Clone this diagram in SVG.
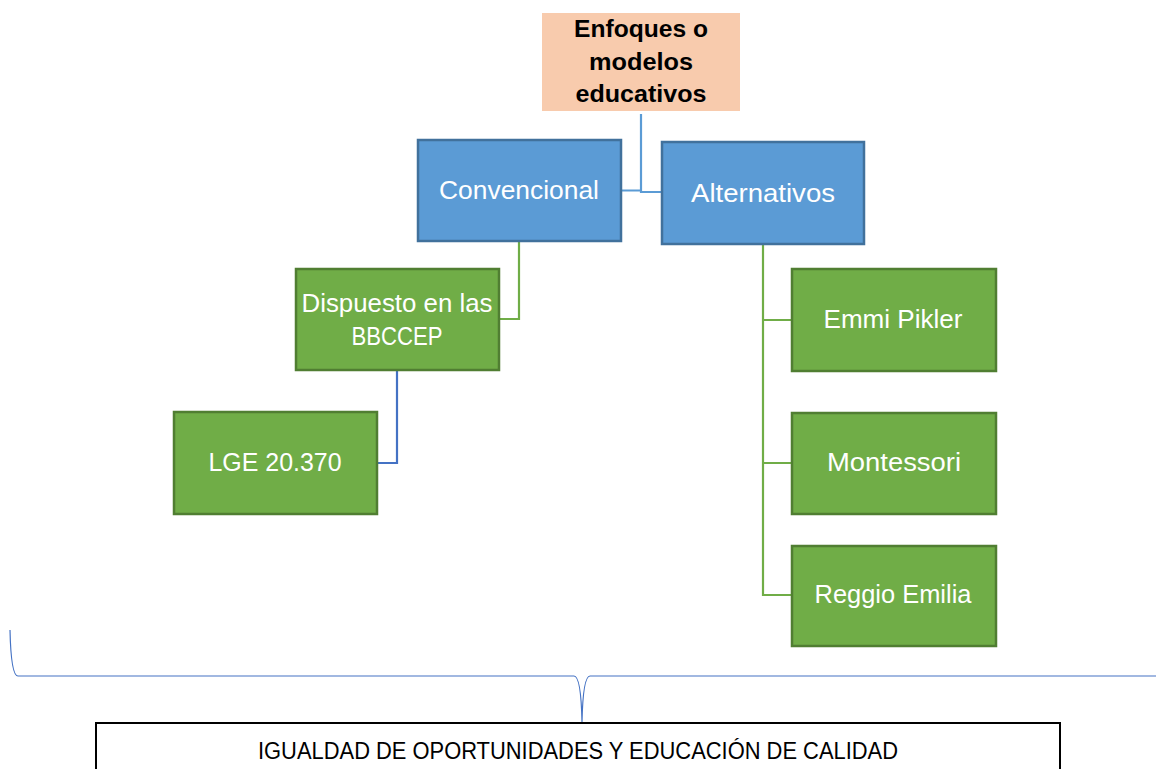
<svg xmlns="http://www.w3.org/2000/svg" width="1156" height="769" viewBox="0 0 1156 769">
<style>
.blue{fill:#5B9BD5;stroke:#41719C;stroke-width:2.5}
.green{fill:#70AD47;stroke:#507E32;stroke-width:2.5}
.t{font-family:"Liberation Sans",Arial,sans-serif;font-size:25px;fill:#fff;text-anchor:middle}
.tb{font-family:"Liberation Sans",Arial,sans-serif;font-size:24px;font-weight:bold;fill:#000;text-anchor:middle}
.c{fill:none;stroke-width:2.2}
</style>
<rect width="1156" height="769" fill="#fff"/>
<g id="connectors">
<path class="c" stroke="#5B9BD5" d="M621 190.5 H641 M641 114 V192 H662"/>
<path class="c" stroke="#70AD47" d="M519 241 V319 H499"/>
<path class="c" stroke="#4472C4" d="M397 370 V463 H377"/>
<path class="c" stroke="#70AD47" d="M763 244 V595 H792 M763 320 H792 M763 463 H792"/>
<path fill="none" stroke="#4472C4" stroke-width="1.2" d="M10 630 Q11 676 18 676 L574 676 Q581 676 582 722 Q583 676 590 676 L1156 676"/>
</g>
<g id="root">
<rect x="542" y="13" width="198" height="98" fill="#F8CBAD"/>
<text class="tb" x="641" y="37" textLength="134" lengthAdjust="spacingAndGlyphs">Enfoques o</text>
<text class="tb" x="641" y="70" textLength="104" lengthAdjust="spacingAndGlyphs">modelos</text>
<text class="tb" x="641" y="102" textLength="131" lengthAdjust="spacingAndGlyphs">educativos</text>
</g>
<g id="convencional">
<rect class="blue" x="418" y="140" width="203" height="101"/>
<text class="t" x="519" y="199" textLength="160" lengthAdjust="spacingAndGlyphs">Convencional</text>
</g>
<g id="alternativos">
<rect class="blue" x="662" y="142" width="202" height="102"/>
<text class="t" x="763" y="202" textLength="144" lengthAdjust="spacingAndGlyphs">Alternativos</text>
</g>
<g id="dispuesto">
<rect class="green" x="296" y="269" width="203" height="101"/>
<text class="t" x="397" y="312" textLength="191" lengthAdjust="spacingAndGlyphs">Dispuesto en las</text>
<text class="t" x="397" y="345" textLength="91" lengthAdjust="spacingAndGlyphs">BBCCEP</text>
</g>
<g id="lge">
<rect class="green" x="174" y="412" width="203" height="102"/>
<text class="t" x="275" y="471" textLength="133" lengthAdjust="spacingAndGlyphs">LGE 20.370</text>
</g>
<g id="pikler">
<rect class="green" x="792" y="269" width="204" height="102"/>
<text class="t" x="893" y="328" textLength="139" lengthAdjust="spacingAndGlyphs">Emmi Pikler</text>
</g>
<g id="montessori">
<rect class="green" x="792" y="413" width="204" height="101"/>
<text class="t" x="894" y="471" textLength="134" lengthAdjust="spacingAndGlyphs">Montessori</text>
</g>
<g id="reggio">
<rect class="green" x="792" y="546" width="204" height="100"/>
<text class="t" x="893" y="603" textLength="157" lengthAdjust="spacingAndGlyphs">Reggio Emilia</text>
</g>
<g id="igualdad">
<rect x="96" y="723" width="964" height="60" fill="#fff" stroke="#000" stroke-width="2"/>
<text x="578" y="759" font-family="'Liberation Sans',Arial,sans-serif" font-size="23" fill="#000" text-anchor="middle" textLength="640" lengthAdjust="spacingAndGlyphs">IGUALDAD DE OPORTUNIDADES Y EDUCACIÓN DE CALIDAD</text>
</g>
</svg>
